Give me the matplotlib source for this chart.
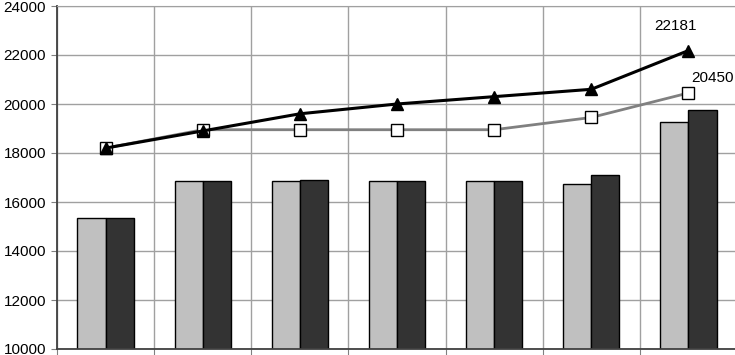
import numpy as np
import matplotlib
matplotlib.use('Agg')
import matplotlib.pyplot as plt

plt.rcParams['font.family'] = ['Liberation Sans', 'DejaVu Sans']

# data
categories = np.arange(7)
bars_light = [15350, 16850, 16850, 16850, 16850, 16720, 19250]
bars_dark = [15350, 16850, 16890, 16850, 16850, 17100, 19750]
line_triangle = [18200, 18900, 19600, 20000, 20300, 20600, 22181]
line_square = [18200, 18950, 18950, 18950, 18950, 19450, 20450]
y_ticks = [10000, 12000, 14000, 16000, 18000, 20000, 22000, 24000]

fig = plt.figure(figsize=(7.35, 3.55), dpi=100)
ax = fig.add_axes([57 / 735, 1 - 349 / 355, 680 / 735, 343 / 355])

w = 0.29
ax.bar(categories - w / 2, bars_light, width=w, color='#c0c0c0',
       edgecolor='black', linewidth=1, zorder=2)
ax.bar(categories + w / 2, bars_dark, width=w, color='#333333',
       edgecolor='black', linewidth=1, zorder=2)

ax.plot(categories, line_square, color='#808080', linewidth=2,
        marker='s', markersize=9, markerfacecolor='white',
        markeredgecolor='black', markeredgewidth=1, zorder=3)
ax.plot(categories, line_triangle, color='black', linewidth=2.2,
        marker='^', markersize=9, markerfacecolor='black',
        markeredgecolor='black', zorder=4)

ax.annotate(str(line_triangle[-1]), (categories[-1], line_triangle[-1]),
            xytext=(-13, 18), textcoords='offset pixels',
            ha='center', va='bottom', fontsize=11)
ax.annotate(str(line_square[-1]), (categories[-1], line_square[-1]),
            xytext=(3, 8), textcoords='offset pixels',
            ha='left', va='bottom', fontsize=11, annotation_clip=False)

ax.set_ylim(10000, 24000)
ax.set_xlim(-0.5, 6.5)
ax.set_yticks(y_ticks)
ax.set_yticklabels([str(t) for t in y_ticks], fontsize=11)
ax.set_xticks(np.arange(-0.5, 7, 1))
ax.set_xticklabels([])
ax.tick_params(axis='x', length=4, direction='out', color='#808080')
ax.tick_params(axis='y', length=4, direction='out', pad=4, color='#808080')

ax.grid(True, color='#a0a0a0', linewidth=1, zorder=0)
ax.set_axisbelow(True)
for s in ['left', 'bottom']:
    ax.spines[s].set_color('#404040')
    ax.spines[s].set_linewidth(1.3)
ax.spines['top'].set_color('#a0a0a0')
ax.spines['right'].set_visible(False)

fig.savefig('out.png', dpi=100)
